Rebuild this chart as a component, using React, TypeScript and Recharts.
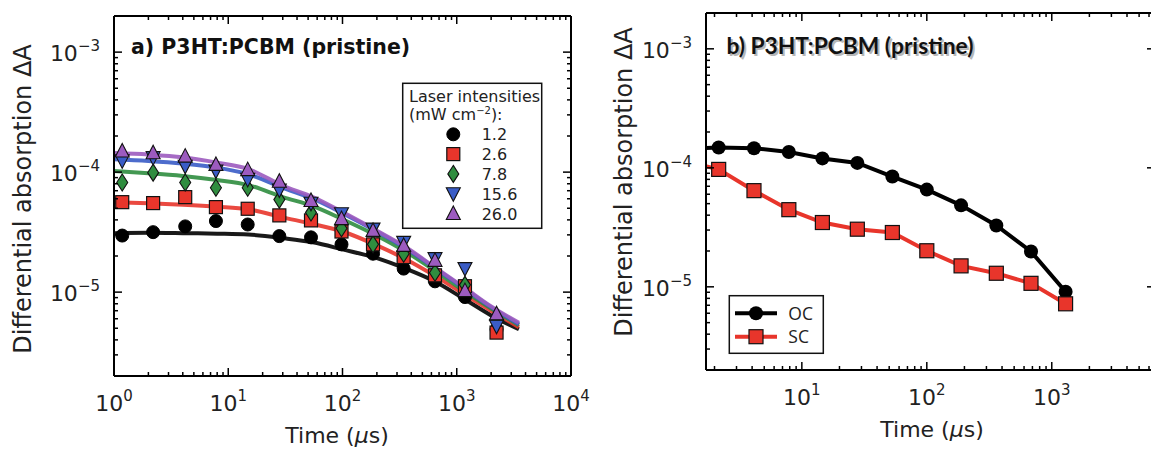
import React from 'react';
import { ComposedChart, Line, Scatter, XAxis, YAxis } from 'recharts';

// ---------- Panel a) data ----------
const timeA = [1.18, 2.2, 4.2, 7.8, 14.8, 28, 53, 98, 185, 343, 645, 1180, 2230];
const a12 = [2.96e-5, 3.16e-5, 3.53e-5, 3.91e-5, 3.66e-5, 2.93e-5, 2.86e-5, 2.5e-5, 2.09e-5, 1.57e-5, 1.23e-5, 9.1e-6, 4.9e-6];
const a26 = [5.62e-5, 5.52e-5, 6.19e-5, 5.11e-5, 4.95e-5, 4.36e-5, 3.96e-5, 3.2e-5, 2.5e-5, 1.96e-5, 1.38e-5, 1.12e-5, 4.6e-6];
const a78 = [8.2e-5, 9.9e-5, 8.2e-5, 7.4e-5, 7.4e-5, 5.9e-5, 4.6e-5, 3.4e-5, 2.5e-5, 2.09e-5, 1.45e-5, 1.15e-5, 5.8e-6];
const a156 = [1.24e-4, 1.32e-4, 1.12e-4, 1.02e-4, 8.7e-5, 7.1e-5, 5.5e-5, 4.5e-5, 3.35e-5, 2.6e-5, 1.9e-5, 1.57e-5, 5.2e-6];
const a260 = [1.5e-4, 1.45e-4, 1.36e-4, 1.16e-4, 1.05e-4, 8.4e-5, 5.8e-5, 4.1e-5, 3.27e-5, 2.45e-5, 1.84e-5, 1.03e-5, 6.6e-6];

const fitT = [1, 2, 4, 8, 15, 30, 55, 100, 200, 350, 650, 1200, 2000, 3500];
const fit12 = [3.1e-5, 3.12e-5, 3.1e-5, 3.07e-5, 3.02e-5, 2.82e-5, 2.6e-5, 2.27e-5, 1.92e-5, 1.58e-5, 1.22e-5, 8.6e-6, 6.4e-6, 4.9e-6];
const fit26 = [5.6e-5, 5.5e-5, 5.35e-5, 5.15e-5, 4.9e-5, 4.2e-5, 3.7e-5, 3.2e-5, 2.45e-5, 1.9e-5, 1.36e-5, 9.4e-6, 7.0e-6, 5.1e-6];
const fit78 = [1.02e-4, 9.8e-5, 9.3e-5, 8.6e-5, 7.8e-5, 6.2e-5, 5.2e-5, 4.05e-5, 2.95e-5, 2.2e-5, 1.5e-5, 1.0e-5, 7.3e-6, 5.3e-6];
const fit156 = [1.28e-4, 1.24e-4, 1.18e-4, 1.09e-4, 9.6e-5, 7.4e-5, 6.0e-5, 4.55e-5, 3.2e-5, 2.35e-5, 1.58e-5, 1.05e-5, 7.5e-6, 5.4e-6];
const fit260 = [1.44e-4, 1.4e-4, 1.33e-4, 1.2e-4, 1.06e-4, 7.7e-5, 6.2e-5, 4.65e-5, 3.25e-5, 2.4e-5, 1.6e-5, 1.07e-5, 7.6e-6, 5.55e-6];

const legendLabelsA = ['1.2', '2.6', '7.8', '15.6', '26.0'];

// ---------- Panel b) data ----------
const timeB = [1.15, 2.16, 4.14, 7.87, 14.6, 27.8, 53, 100, 188, 360, 682, 1290];
const ocB = [1.45e-4, 1.48e-4, 1.46e-4, 1.36e-4, 1.2e-4, 1.1e-4, 8.45e-5, 6.56e-5, 4.84e-5, 3.28e-5, 1.98e-5, 9.1e-6];
const scB = [1.14e-4, 9.7e-5, 6.43e-5, 4.45e-5, 3.47e-5, 3.05e-5, 2.86e-5, 2.01e-5, 1.5e-5, 1.3e-5, 1.07e-5, 7.2e-6];
const legendLabelsB = ['OC', 'SC'];

// ---------- axis tick values ----------
const decadeMultipliers = [1, 2, 3, 4, 5, 6, 7, 8, 9];
function logTicks(lo: number, hi: number): number[] {
  const out: number[] = [];
  for (let e = Math.floor(Math.log10(lo)) - 1; e <= Math.ceil(Math.log10(hi)); e++) {
    for (const m of decadeMultipliers) {
      const v = parseFloat((m * Math.pow(10, e)).toPrecision(6));
      if (v >= lo * 0.9999 && v <= hi * 1.0001) out.push(v);
    }
  }
  return out;
}

const xDomainA: [number, number] = [1, 10000];
const yDomain: [number, number] = [2e-6, 2e-3];
const xDomainB: [number, number] = [1.71, 6700];

const xTicksA = logTicks(xDomainA[0], xDomainA[1]);
const yTicks = logTicks(yDomain[0], yDomain[1]);
const xTicksB = logTicks(xDomainB[0], xDomainB[1]);

const toPts = (xs: number[], ys: number[]) => xs.map((x, i) => ({ x, y: ys[i] }));

const FONT = "'DejaVu Sans', sans-serif";
const RED = '#e8352b';
const GREEN = '#2f8d3f';
const BLUE = '#3a5cc6';
const PURPLE = '#9c5bbf';

function isMajor(v: number) {
  const l = Math.log10(v);
  return Math.abs(l - Math.round(l)) < 1e-6;
}
function expText(v: number) {
  const e = Math.round(Math.log10(v));
  return e < 0 ? '\u2212' + Math.abs(e) : String(e);
}

type Side = 'bottom' | 'top' | 'left' | 'right';
function makeTick(side: Side, labels: boolean) {
  return (props: any) => {
    const { x, y, payload } = props;
    const v = payload.value;
    const major = isMajor(v);
    const len = major ? 8 : 4;
    let line: any = null;
    if (side === 'bottom') line = <line x1={x} x2={x} y1={y} y2={y - len} stroke="#000" strokeWidth={1.5} />;
    if (side === 'top') line = <line x1={x} x2={x} y1={y} y2={y + len} stroke="#000" strokeWidth={1.5} />;
    if (side === 'left') line = <line x1={x} x2={x + len} y1={y} y2={y} stroke="#000" strokeWidth={1.5} />;
    if (side === 'right') line = <line x1={x} x2={x - len} y1={y} y2={y} stroke="#000" strokeWidth={1.5} />;
    let label: any = null;
    if (labels && major) {
      if (side === 'bottom') {
        label = (
          <text x={x} y={y + 35} textAnchor="middle" fontSize={22} fontFamily={FONT} fill="#222">
            10<tspan dy={-10} fontSize={15}>{expText(v)}</tspan>
          </text>
        );
      } else if (side === 'left') {
        label = (
          <text x={x - 14} y={y + 9} textAnchor="end" fontSize={22} fontFamily={FONT} fill="#222">
            10<tspan dy={-10} fontSize={15}>{expText(v)}</tspan>
          </text>
        );
      }
    }
    return (
      <g>
        {line}
        {label}
      </g>
    );
  };
}

const Circle = ({ cx, cy, r = 6.5 }: any) => <circle cx={cx} cy={cy} r={r} fill="#000" stroke="#000" strokeWidth={1} />;
const Square = ({ cx, cy, s = 13 }: any) => (
  <rect x={cx - s / 2} y={cy - s / 2} width={s} height={s} fill={RED} stroke="#111" strokeWidth={1.2} />
);
const Diamond = ({ cx, cy }: any) => (
  <polygon points={`${cx},${cy - 8.5} ${cx + 5.5},${cy} ${cx},${cy + 8.5} ${cx - 5.5},${cy}`} fill={GREEN} stroke="#111" strokeWidth={1.1} />
);
const TriDown = ({ cx, cy }: any) => (
  <polygon points={`${cx - 7},${cy - 6} ${cx + 7},${cy - 6} ${cx},${cy + 7.5}`} fill={BLUE} stroke="#111" strokeWidth={1.1} />
);
const TriUp = ({ cx, cy }: any) => (
  <polygon points={`${cx - 7},${cy + 6} ${cx + 7},${cy + 6} ${cx},${cy - 7.5}`} fill={PURPLE} stroke="#111" strokeWidth={1.1} />
);

const axisLine = { stroke: '#000', strokeWidth: 2 };

function PanelA() {
  const fits = [
    { d: fit12, c: '#000' },
    { d: fit26, c: RED },
    { d: fit78, c: GREEN },
    { d: fit156, c: BLUE },
    { d: fit260, c: PURPLE },
  ];
  return (
    <ComposedChart width={600} height={450} margin={{ top: 15, right: 28, bottom: 73, left: 113 }}>
      <XAxis xAxisId="b" dataKey="x" type="number" scale="log" domain={xDomainA} allowDataOverflow ticks={xTicksA} interval={0}
        height={1} tickSize={0} tickMargin={0} axisLine={axisLine} tickLine={false} tick={makeTick('bottom', true)} />
      <XAxis xAxisId="t" orientation="top" dataKey="x" type="number" scale="log" domain={xDomainA} allowDataOverflow ticks={xTicksA} interval={0}
        height={1} tickSize={0} tickMargin={0} axisLine={axisLine} tickLine={false} tick={makeTick('top', false)} />
      <YAxis yAxisId="l" dataKey="y" type="number" scale="log" domain={yDomain} allowDataOverflow ticks={yTicks} interval={0}
        width={1} tickSize={0} tickMargin={0} axisLine={axisLine} tickLine={false} tick={makeTick('left', true)} />
      <YAxis yAxisId="r" orientation="right" dataKey="y" type="number" scale="log" domain={yDomain} allowDataOverflow ticks={yTicks} interval={0}
        width={1} tickSize={0} tickMargin={0} axisLine={axisLine} tickLine={false} tick={makeTick('right', false)} />
      {fits.map((f, i) => (
        <Line key={'f' + i} xAxisId="b" yAxisId="l" data={toPts(fitT, f.d)} dataKey="y" type="monotone" stroke={f.c}
          strokeWidth={4} strokeOpacity={0.9} dot={false} isAnimationActive={false} />
      ))}
      <Scatter xAxisId="b" yAxisId="l" data={toPts(timeA, a12)} dataKey="y" isAnimationActive={false} shape={(p: any) => <Circle cx={p.cx} cy={p.cy} />} />
      <Scatter xAxisId="b" yAxisId="l" data={toPts(timeA, a26)} dataKey="y" isAnimationActive={false} shape={(p: any) => <Square cx={p.cx} cy={p.cy} />} />
      <Scatter xAxisId="b" yAxisId="l" data={toPts(timeA, a78)} dataKey="y" isAnimationActive={false} shape={(p: any) => <Diamond cx={p.cx} cy={p.cy} />} />
      <Scatter xAxisId="b" yAxisId="l" data={toPts(timeA, a156)} dataKey="y" isAnimationActive={false} shape={(p: any) => <TriDown cx={p.cx} cy={p.cy} />} />
      <Scatter xAxisId="b" yAxisId="l" data={toPts(timeA, a260)} dataKey="y" isAnimationActive={false} shape={(p: any) => <TriUp cx={p.cx} cy={p.cy} />} />
    </ComposedChart>
  );
}

function PanelB() {
  return (
    <ComposedChart width={600} height={450} margin={{ top: 12, right: 44, bottom: 79, left: 105 }}>
      <XAxis xAxisId="b" dataKey="x" type="number" scale="log" domain={xDomainB} allowDataOverflow ticks={xTicksB} interval={0}
        height={1} tickSize={0} tickMargin={0} axisLine={axisLine} tickLine={false} tick={makeTick('bottom', true)} />
      <XAxis xAxisId="t" orientation="top" dataKey="x" type="number" scale="log" domain={xDomainB} allowDataOverflow ticks={xTicksB} interval={0}
        height={1} tickSize={0} tickMargin={0} axisLine={axisLine} tickLine={false} tick={makeTick('top', false)} />
      <YAxis yAxisId="l" dataKey="y" type="number" scale="log" domain={yDomain} allowDataOverflow ticks={yTicks} interval={0}
        width={1} tickSize={0} tickMargin={0} axisLine={axisLine} tickLine={false} tick={makeTick('left', true)} />
      <YAxis yAxisId="r" orientation="right" dataKey="y" type="number" scale="log" domain={yDomain} allowDataOverflow ticks={yTicks} interval={0}
        width={1} tickSize={0} tickMargin={0} axisLine={axisLine} tickLine={false} tick={makeTick('right', false)} />
      <Line xAxisId="b" yAxisId="l" data={toPts(timeB, ocB)} dataKey="y" type="linear" stroke="#000" strokeWidth={4}
        isAnimationActive={false}
        dot={(p: any) => <circle key={'oc' + p.index} cx={p.cx} cy={p.cy} r={7} fill="#000" />} />
      <Line xAxisId="b" yAxisId="l" data={toPts(timeB, scB)} dataKey="y" type="linear" stroke={RED} strokeWidth={4}
        isAnimationActive={false}
        dot={(p: any) => <rect key={'sc' + p.index} x={p.cx - 7} y={p.cy - 7} width={14} height={14} fill={RED} stroke="#111" strokeWidth={1.2} />} />
    </ComposedChart>
  );
}

function Overlay() {
  const rowsA = [Circle, Square, Diamond, TriDown, TriUp];
  const titleB = 'b) P3HT:PCBM (pristine)';
  return (
    <svg width={1151} height={450} style={{ position: 'absolute', left: 0, top: 0, pointerEvents: 'none' }}>
      {/* axis titles */}
      <text transform="rotate(-90, 23, 199)" x={23} y={199} textAnchor="middle" dominantBaseline="central" fontSize={24} fontFamily={FONT} fill="#222">
        Differential absorption ΔA
      </text>
      <text transform="rotate(-90, 624, 182)" x={624} y={182} textAnchor="middle" dominantBaseline="central" fontSize={24} fontFamily={FONT} fill="#222">
        Differential absorption ΔA
      </text>
      <text x={337} y={443} textAnchor="middle" fontSize={22} fontFamily={FONT} fill="#222">
        Time (<tspan fontStyle="italic">μ</tspan>s)
      </text>
      <text x={932} y={437} textAnchor="middle" fontSize={22} fontFamily={FONT} fill="#222">
        Time (<tspan fontStyle="italic">μ</tspan>s)
      </text>
      {/* titles */}
      <text x={131} y={54} fontSize={20.5} fontWeight="bold" fontFamily={FONT} fill="#111">a) P3HT:PCBM (pristine)</text>
      <text x={728.5} y={56} textLength={247} lengthAdjust="spacingAndGlyphs" fontSize={23} fontWeight="bold" fontFamily="Lato, 'Open Sans', sans-serif" fill="#888" opacity={0.6}>{titleB}</text>
      <text x={726.5} y={54} textLength={247} lengthAdjust="spacingAndGlyphs" fontSize={23} fontWeight="bold" fontFamily="Lato, 'Open Sans', sans-serif" fill="#111">{titleB}</text>
      {/* legend a */}
      <rect x={402.7} y={83.3} width={139} height={145} fill="#fff" stroke="#111" strokeWidth={1.5} />
      <text x={409} y={102.3} fontSize={16} fontFamily={FONT} fill="#222">Laser intensities</text>
      <text x={409} y={120} fontSize={16} fontFamily={FONT} fill="#222">
        (mW cm<tspan dy={-6} fontSize={10}>−2</tspan><tspan dy={6}>):</tspan>
      </text>
      {legendLabelsA.map((lab, i) => {
        const M = rowsA[i];
        const cy = 134.3 + i * 19.8;
        return (
          <g key={lab}>
            <M cx={453.3} cy={cy} />
            <text x={481.7} y={cy + 6} fontSize={16} fontFamily={FONT} fill="#222">{lab}</text>
          </g>
        );
      })}
      {/* legend b */}
      <rect x={729.3} y={295.7} width={94} height={57.6} fill="#fff" stroke="#111" strokeWidth={1.5} />
      {legendLabelsB.map((lab, i) => {
        const cy = 313.3 + i * 23.4;
        const c = i === 0 ? '#000' : RED;
        return (
          <g key={lab}>
            <line x1={735} x2={777} y1={cy} y2={cy} stroke={c} strokeWidth={4} />
            {i === 0 ? (
              <circle cx={756} cy={cy} r={7} fill="#000" />
            ) : (
              <rect x={749} y={cy - 7} width={14} height={14} fill={RED} stroke="#111" strokeWidth={1.2} />
            )}
            <text x={788.3} y={cy + 6.5} fontSize={17.5} fontFamily="'Open Sans', sans-serif" fill="#222">{lab}</text>
          </g>
        );
      })}
    </svg>
  );
}

export default function App() {
  return (
    <div style={{ position: 'absolute', left: 0, top: 0, width: 1151, height: 450, overflow: 'hidden', background: '#fff' }}>
      <div style={{ position: 'absolute', left: 0, top: 0 }}>
        <PanelA />
      </div>
      <div style={{ position: 'absolute', left: 600, top: 0 }}>
        <PanelB />
      </div>
      <Overlay />
    </div>
  );
}
